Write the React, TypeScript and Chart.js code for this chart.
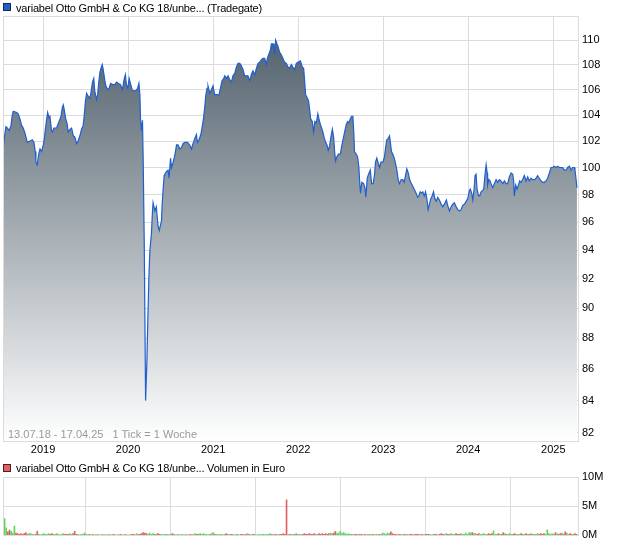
import React, { useEffect, useRef } from "react";
import { Chart, registerables } from "chart.js";

Chart.register(...registerables);

const FONT = "'Liberation Sans', Arial, sans-serif";

// Time frame (weekly ticks)
const START_DATE = Date.UTC(2018, 6, 13);
const END_DATE = Date.UTC(2025, 3, 17);
const yearLabels = [2019, 2020, 2021, 2022, 2023, 2024, 2025];
const priceTicks = [82, 84, 86, 88, 90, 92, 94, 96, 98, 100, 102, 104, 106, 108, 110];
const volumeTicks = [0, 5, 10];

// Price series: week offset since 13.07.2018 and price
const weeks = [
  0, 1.0, 1.8, 2.6, 3.8, 4.9, 5.7, 6.3, 8.4, 9.3,
  10.4, 11.4, 12.4, 13.5, 14.9, 16.6, 18.0, 19.0, 19.8, 20.2,
  21.0, 21.9, 22.7, 23.7, 24.7, 25.3, 25.9, 26.8, 27.4, 28.2,
  28.8, 29.8, 30.4, 31.2, 32.9, 34.4, 35.6, 36.4, 37.0, 37.6,
  38.5, 39.4, 40.0, 41.1, 42.1, 43.1, 44.1, 45.2, 46.1, 47.2,
  48.2, 49.2, 49.8, 50.6, 51.3, 52.2, 53.3, 53.9, 54.9, 55.7,
  56.3, 57.4, 58.1, 58.7, 59.5, 60.1, 60.9, 61.5, 62.4, 63.1,
  64.2, 65.1, 66.0, 67.2, 68.6, 69.7, 70.6, 72.1, 73.3, 74.3,
  75.1, 75.7, 76.6, 77.4, 78.2, 79.2, 80.2, 81.4, 82.6, 83.4,
  84.0, 84.4, 85.0, 85.6, 86.0,
  86.7, 87.5, 88.3, 88.9, 89.5, 90.1, 91.1, 91.7, 92.1, 93.2,
  94.1, 94.6, 95.2, 95.9, 96.7, 97.3, 97.6, 98.2, 98.9, 99.3,
  100.3, 101.3, 101.9, 102.8, 103.4, 104.4, 105.4, 106.5, 107.4, 108.5,
  109.5, 110.5, 111.5, 113.2, 114.6, 115.7, 116.6, 117.7, 118.7, 119.3,
  120.3, 121.4, 122.1, 123.0, 123.8, 124.4, 125.2, 125.8, 126.9, 127.9,
  128.9, 129.9, 131.6, 132.4, 133.4, 134.4, 135.5, 136.1, 137.1, 138.1,
  139.1, 140.2, 141.1, 142.2, 143.2, 144.2, 145.3, 146.3, 147.3, 148.3,
  149.4, 150.3, 151.4, 152.4, 153.4, 154.5, 155.5, 156.5, 157.5, 158.6,
  159.5, 160.6, 161.6, 162.2, 163.0, 164.1, 164.7, 165.7, 166.3, 166.7,
  167.3, 168.1, 168.7, 169.8, 170.8, 171.8, 172.8, 173.9, 174.9, 175.9,
  176.9, 177.9, 179.0, 180.0, 181.0, 182.5, 183.7, 184.5, 185.1, 185.7,
  186.5, 187.5, 188.2, 188.8, 189.8, 190.6, 191.4, 192.3, 193.2, 193.9,
  194.7, 195.5, 196.3, 197.2, 198.0, 198.8, 199.6, 200.4, 201.2, 202.1,
  202.9, 203.5, 204.1, 204.9, 205.8, 207.0, 208.0, 209.0, 209.8, 210.7,
  211.5, 212.2, 213.1, 213.9, 214.7, 215.3, 215.7, 216.8, 217.6, 218.4,
  218.8, 219.4, 220.2, 221.3, 222.1, 222.7, 223.5, 224.3, 225.4, 226.2,
  227.2, 228.0, 228.6, 229.4, 230.3, 231.1, 231.9, 233.1, 234.1, 234.7,
  235.5, 236.4, 237.2, 237.8, 238.4, 239.2, 240.1, 240.9, 241.7, 242.5,
  243.3, 244.4, 245.3, 246.2, 247.0, 247.8, 248.7, 249.5, 250.2, 251.1,
  251.9, 252.7, 253.5, 254.4, 255.2, 256.0, 256.8, 257.6, 258.5, 259.3,
  260.1, 260.9, 261.7, 262.5, 263.4, 264.2, 265.0, 265.8, 266.8, 267.8,
  268.9, 269.9, 270.9, 272.1, 272.9, 274.0, 275.0, 276.0, 277.0, 278.1,
  279.1, 280.1, 281.1, 282.1, 283.2, 284.2, 285.2, 286.2, 286.8, 287.6,
  288.3, 289.1, 289.7, 290.3, 290.9, 291.8, 292.5, 293.4, 294.4, 295.0,
  295.8, 296.5, 297.1, 297.4, 298.1, 298.9, 299.5, 300.5, 301.5, 302.6,
  303.6, 304.6, 305.6, 306.6, 307.7, 308.7, 309.7, 310.7, 311.8, 312.8,
  313.4, 313.8, 314.6, 315.5, 316.3, 317.1, 317.9, 318.9, 319.9, 321.0,
  322.0, 323.0, 324.0, 325.0, 326.1, 327.1, 328.1, 329.1, 330.2, 331.2,
  332.2, 333.2, 334.2, 335.3, 336.3, 337.3, 338.3, 339.4, 340.4, 341.4,
  342.4, 343.4, 344.5, 345.5, 346.5, 347.6, 348.6, 349.6, 350.6, 351.0,
  351.6, 352.2,
];

const prices = [
  101.3, 102.4, 103.1, 103.0, 102.8, 103.2, 104.0, 104.3, 104.2, 104.1,
  103.7, 103.2, 103.0, 102.6, 101.9, 102.0, 102.1, 101.9, 101.2, 100.4,
  100.2, 101.0, 101.4, 101.2, 101.7, 102.1, 102.8, 103.7, 104.2, 103.8,
  103.9, 102.8, 102.7, 103.0, 103.0, 103.5, 103.9, 104.6, 104.8, 104.4,
  103.7, 103.3, 102.7, 102.9, 103.0, 102.4, 102.3, 101.8, 102.0, 102.4,
  102.9, 103.2, 103.9, 105.1, 105.7, 105.5, 105.3, 105.7, 106.6, 106.9,
  105.9, 105.2, 105.6, 106.5, 107.4, 107.7, 108.0, 107.6, 106.8, 106.3,
  106.0, 106.1, 106.5, 106.4, 106.4, 106.6, 106.5, 106.4, 106.0, 106.8,
  107.2, 106.4, 106.1, 106.9, 106.5, 106.0, 105.9, 105.9, 106.1, 106.5,
  105.6, 103.7, 102.8, 103.6, 100.8,
  94.3, 84.0, 86.5, 89.3, 92.0, 93.9, 95.2, 96.7, 97.4, 96.8,
  97.1, 96.4, 95.7, 95.4, 95.8, 96.1, 97.1, 98.3, 99.4, 99.5,
  99.7, 99.8, 99.2, 100.7, 100.0, 100.4, 100.9, 101.7, 101.7, 101.4,
  101.5, 101.8, 101.9, 101.9, 101.7, 101.4, 101.8, 102.2, 102.5, 101.9,
  102.1, 102.5, 103.0, 103.7, 104.6, 105.5, 106.1, 106.3, 105.7, 106.0,
  106.3, 105.6, 105.6, 105.5, 106.1, 106.7, 106.9, 107.1, 106.9, 107.1,
  106.8, 106.6, 107.1, 107.3, 107.8, 108.1, 108.1, 107.9, 107.6, 107.1,
  107.1, 107.1, 106.7, 107.2, 107.5, 107.2, 107.7, 108.1, 108.2, 108.4,
  108.5, 108.5, 108.0, 108.5, 108.8, 109.2, 109.7, 109.7, 109.3, 108.8,
  110.0, 109.7, 109.5, 109.0, 108.8, 108.5, 108.2, 108.1, 107.8, 107.7,
  108.0, 107.8, 107.6, 108.1, 108.2, 108.3, 107.8, 107.7, 106.7, 105.6,
  105.4, 105.1, 104.4, 103.7, 103.5, 102.7, 103.5, 103.4, 104.1, 103.7,
  103.3, 103.0, 102.7, 102.2, 101.9, 101.7, 101.3, 101.6, 102.3, 102.9,
  102.3, 101.2, 100.5, 100.8, 101.0, 101.0, 101.7, 102.3, 102.8, 103.3,
  103.5, 103.4, 103.7, 103.9, 103.9, 102.6, 101.2, 101.0, 100.8, 100.0,
  99.1, 98.1, 98.9, 98.8, 98.5, 97.8, 99.2, 99.5, 99.8, 98.8,
  98.8, 99.5, 100.4, 100.7, 100.3, 100.0, 100.4, 100.4, 100.8, 101.4,
  102.1, 102.2, 102.4, 101.8, 101.2, 101.0, 100.7, 100.3, 99.8, 99.1,
  98.8, 99.1, 99.1, 98.9, 99.4, 99.9, 99.6, 99.1, 98.9, 98.7,
  98.5, 98.3, 98.1, 97.8, 97.9, 98.2, 98.1, 98.2, 97.9, 98.2,
  97.7, 96.9, 97.3, 97.7, 97.9, 98.2, 97.7, 97.5, 97.8, 97.6,
  97.3, 97.1, 97.3, 97.6, 97.2, 96.8, 97.1, 97.3, 97.4, 97.1,
  96.9, 96.8, 96.9, 97.2, 97.3, 97.5, 97.7, 98.3, 98.4, 98.1,
  97.6, 98.4, 99.4, 99.5, 98.4, 97.9, 97.9, 98.2, 98.3, 98.4,
  99.5, 100.2, 99.6, 98.7, 99.1, 99.0, 98.8, 98.5, 98.8, 99.1,
  98.9, 99.1, 99.0, 98.8, 99.0, 98.8, 98.8, 99.3, 99.6, 99.5,
  99.0, 97.9, 98.7, 98.4, 98.7, 99.0, 98.9, 99.1, 99.4, 99.0,
  99.3, 99.0, 99.2, 99.1, 99.1, 99.2, 99.4, 99.2, 99.0, 98.9,
  98.9, 99.0, 99.2, 99.6, 100.0, 100.0, 100.1, 100.0, 100.1, 100.0,
  100.0, 100.0, 99.8, 99.8, 100.0, 100.1, 99.8, 100.0, 100.0, 99.8,
  99.2, 98.5,
];

// Weekly volume in million euro, one value per week from week 0
const volumes = [
  1.2, 2.9, 1.3, 0.6, 0.9, 0.7, 0.4, 1.6, 0.4, 0.3, 0.2, 0.3, 0.2, 0.3, 0.5, 0.2, 0.3, 0.3, 0.2, 0.1,
  0.2, 0.7, 0.2, 0.1, 0.2, 0.3, 0.2, 0.2, 0.3, 0.2, 0.3, 0.2, 0.2, 0.3, 0.2, 0.1, 0.2, 0.3, 0.2, 0.2,
  0.2, 0.3, 0.2, 0.3, 0.7, 0.2, 0.2, 0.1, 0.2, 0.2, 0.4, 0.2, 0.1, 0.2, 0.1, 0.2, 0.1, 0.1, 0.2, 0.1,
  0.1, 0.2, 0.1, 0.1, 0.1, 0.2, 0.1, 0.1, 0.2, 0.1, 0.1, 0.1, 0.2, 0.1, 0.1, 0.2, 0.1, 0.1, 0.1, 0.2,
  0.2, 0.1, 0.3, 0.2, 0.2, 0.3, 0.5, 0.4, 0.3, 0.2, 0.4, 0.2, 0.3, 0.2, 0.2, 0.3, 0.2, 0.2, 0.1, 0.2,
  0.2, 0.2, 0.1, 0.2, 0.3, 0.2, 0.1, 0.2, 0.1, 0.1, 0.2, 0.1, 0.2, 0.1, 0.1, 0.2, 0.1, 0.2, 0.3, 0.2,
  0.2, 0.3, 0.2, 0.3, 0.2, 0.2, 0.1, 0.2, 0.3, 0.5, 0.2, 0.2, 0.1, 0.2, 0.2, 0.1, 0.2, 0.3, 0.2, 0.1,
  0.2, 0.2, 0.1, 0.2, 0.2, 0.1, 0.2, 0.2, 0.1, 0.2, 0.3, 0.2, 0.1, 0.2, 0.2, 0.1, 0.1, 0.2, 0.1, 0.2,
  0.2, 0.1, 0.2, 0.2, 0.3, 0.2, 0.1, 0.2, 0.2, 0.1, 0.2, 0.2, 0.3, 0.2, 6.1, 0.1, 0.2, 0.2, 0.1, 0.2,
  0.3, 0.2, 0.2, 0.1, 0.2, 0.3, 0.2, 0.2, 0.3, 0.2, 0.2, 0.3, 0.2, 0.2, 0.3, 0.2, 0.3, 0.2, 0.3, 0.2,
  0.3, 0.4, 0.3, 0.4, 0.7, 0.3, 0.4, 0.7, 0.3, 0.5, 0.3, 0.2, 0.3, 0.2, 0.2, 0.1, 0.2, 0.2, 0.1, 0.2,
  0.2, 0.1, 0.2, 0.1, 0.2, 0.2, 0.1, 0.2, 0.1, 0.2, 0.1, 0.2, 0.2, 0.4, 0.3, 0.2, 0.4, 0.3, 0.6, 0.3,
  0.2, 0.2, 0.1, 0.2, 0.2, 0.1, 0.2, 0.2, 0.2, 0.1, 0.2, 0.2, 0.1, 0.2, 0.2, 0.2, 0.1, 0.2, 0.1, 0.2,
  0.2, 0.2, 0.2, 0.1, 0.2, 0.2, 0.2, 0.1, 0.2, 0.3, 0.2, 0.2, 0.3, 0.2, 0.2, 0.3, 0.2, 0.2, 0.3, 0.2,
  0.2, 0.3, 0.2, 0.2, 0.4, 0.2, 0.5, 0.4, 0.5, 0.3, 0.3, 0.2, 0.3, 0.2, 0.2, 0.3, 0.2, 0.2, 0.3, 0.2,
  0.3, 0.8, 0.2, 0.2, 0.3, 0.2, 0.2, 0.5, 0.3, 0.2, 0.2, 0.3, 0.2, 0.2, 0.3, 0.2, 0.2, 0.2, 0.3, 0.2,
  0.2, 0.3, 0.2, 0.2, 0.3, 0.2, 0.2, 0.2, 0.3, 0.2, 0.3, 0.2, 0.3, 0.2, 0.95, 0.3, 0.2, 0.3, 0.2, 0.5,
  0.3, 0.2, 0.3, 0.4, 0.2, 0.6, 0.4, 0.2, 0.3, 0.2, 0.2, 0.3, 0.2,
];

const WEEK_MS = 7 * 864e5;
const toWeek = (t: number) => (t - START_DATE) / WEEK_MS;
const yearPositions = yearLabels.map((y) => toWeek(Date.UTC(y, 0, 1)));
const maxWeek = toWeek(END_DATE);

const GRID = "#dcdcdc";
const UP = "#5fd35f";
const DOWN = "#e06262";

function priceAt(w: number): number {
  if (w <= weeks[0]) return prices[0];
  for (let i = 1; i < weeks.length; i++) {
    if (w <= weeks[i]) {
      const f = (w - weeks[i - 1]) / (weeks[i] - weeks[i - 1]);
      return prices[i - 1] + f * (prices[i] - prices[i - 1]);
    }
  }
  return prices[prices.length - 1];
}

const frame = {
  id: "frame",
  afterDraw(chart: any) {
    const a = chart.chartArea;
    const ctx = chart.ctx;
    ctx.save();
    ctx.strokeStyle = GRID;
    ctx.lineWidth = 1;
    ctx.strokeRect(Math.round(a.left) + 0.5, Math.round(a.top) + 0.5, Math.round(a.right - a.left), Math.round(a.bottom - a.top));
    ctx.restore();
  },
};

export default function App() {
  const priceRef = useRef<HTMLCanvasElement>(null);
  const volRef = useRef<HTMLCanvasElement>(null);

  useEffect(() => {
    const priceChart = new Chart(priceRef.current as HTMLCanvasElement, {
      type: "line",
      data: {
        datasets: [
          {
            data: weeks.map((w, i) => ({ x: w, y: prices[i] })),
            borderColor: "#1f5fd0",
            borderWidth: 1.2,
            pointRadius: 0,
            tension: 0,
            fill: "start",
            backgroundColor: (c: any) => {
              const a = c.chart.chartArea;
              if (!a) return "#8a959d";
              const g = c.chart.ctx.createLinearGradient(0, a.top, 0, a.bottom);
              g.addColorStop(0, "#4a5a66");
              g.addColorStop(1, "#ffffff");
              return g;
            },
          },
        ],
      },
      options: {
        animation: false,
        responsive: false,
        devicePixelRatio: 1,
        layout: { padding: { left: 3, top: 16, right: 0, bottom: 0 } },
        plugins: { legend: { display: false }, tooltip: { enabled: false } },
        scales: {
          x: {
            type: "linear",
            min: 0,
            max: maxWeek,
            afterBuildTicks: (s: any) => {
              s.ticks = yearPositions.map((v) => ({ value: v }));
            },
            afterFit: (s: any) => {
              s.height = 19;
            },
            ticks: {
              autoSkip: false,
              maxRotation: 0,
              padding: 2,
              color: "#000",
              font: { family: FONT, size: 11 },
              callback: (_v: any, i: number) => String(yearLabels[i]),
            },
            grid: { color: GRID, drawTicks: false },
            border: { display: false },
          },
          y: {
            type: "logarithmic",
            position: "right",
            min: 81.5,
            max: 112,
            afterBuildTicks: (s: any) => {
              s.ticks = priceTicks.map((v) => ({ value: v }));
            },
            afterFit: (s: any) => {
              s.width = 42;
            },
            ticks: {
              padding: 4,
              color: "#000",
              font: { family: FONT, size: 11 },
              callback: (v: any) => String(v),
            },
            grid: { color: GRID, drawTicks: false },
            border: { display: false },
          },
        },
      },
      plugins: [frame],
    } as any);

    const volColors = volumes.map((_, i) => (i === 0 || priceAt(i) >= priceAt(i - 1) ? UP : DOWN));

    const volChart = new Chart(volRef.current as HTMLCanvasElement, {
      type: "bar",
      data: {
        datasets: [
          {
            data: volumes.map((v, i) => ({ x: i, y: v })),
            backgroundColor: volColors,
            barThickness: 1,
          },
        ],
      },
      options: {
        animation: false,
        responsive: false,
        devicePixelRatio: 1,
        layout: { padding: { left: 3, top: 19, right: 0, bottom: 0 } },
        plugins: { legend: { display: false }, tooltip: { enabled: false } },
        scales: {
          x: {
            type: "linear",
            min: 0,
            max: maxWeek,
            offset: false,
            afterBuildTicks: (s: any) => {
              s.ticks = yearPositions.map((v) => ({ value: v }));
            },
            afterFit: (s: any) => {
              s.height = 10;
            },
            ticks: { display: false },
            grid: { color: GRID, drawTicks: false },
            border: { display: false },
          },
          y: {
            type: "linear",
            position: "right",
            min: 0,
            max: 10,
            afterBuildTicks: (s: any) => {
              s.ticks = volumeTicks.map((v) => ({ value: v }));
            },
            afterFit: (s: any) => {
              s.width = 42;
            },
            ticks: {
              padding: 4,
              color: "#000",
              font: { family: FONT, size: 11 },
              callback: (v: any) => v + "M",
            },
            grid: { color: GRID, drawTicks: false },
            border: { display: false },
          },
        },
      },
      plugins: [frame],
    } as any);

    return () => {
      priceChart.destroy();
      volChart.destroy();
    };
  }, []);

  const legendText: React.CSSProperties = {
    position: "absolute",
    left: 16,
    fontFamily: FONT,
    fontSize: 11,
    letterSpacing: "-0.2px",
    lineHeight: "14px",
    color: "#000",
    whiteSpace: "nowrap",
  };

  return (
    <div style={{ position: "fixed", left: 0, top: 0, width: 620, height: 546, background: "#fff", overflow: "hidden" }}>
      <canvas ref={priceRef} width={620} height={460} style={{ position: "absolute", left: 0, top: 0 }} />
      <canvas ref={volRef} width={620} height={88} style={{ position: "absolute", left: 0, top: 458 }} />
      <div style={{ position: "absolute", left: 3, top: 3, width: 8, height: 8, boxSizing: "border-box", background: "#1f5fd0", border: "1px solid #1b2b48" }} />
      <div style={{ ...legendText, top: 1 }}>variabel Otto GmbH &amp; Co KG 18/unbe... (Tradegate)</div>
      <div style={{ position: "absolute", left: 3, top: 464, width: 8, height: 8, boxSizing: "border-box", background: DOWN, border: "1px solid #4a2020" }} />
      <div style={{ ...legendText, top: 461 }}>variabel Otto GmbH &amp; Co KG 18/unbe... Volumen in Euro</div>
      <div style={{ position: "absolute", left: 8, top: 428, fontFamily: FONT, fontSize: 11, lineHeight: "13px", color: "#9a9a9a", whiteSpace: "pre" }}>
        {"13.07.18 - 17.04.25   1 Tick = 1 Woche"}
      </div>
    </div>
  );
}
